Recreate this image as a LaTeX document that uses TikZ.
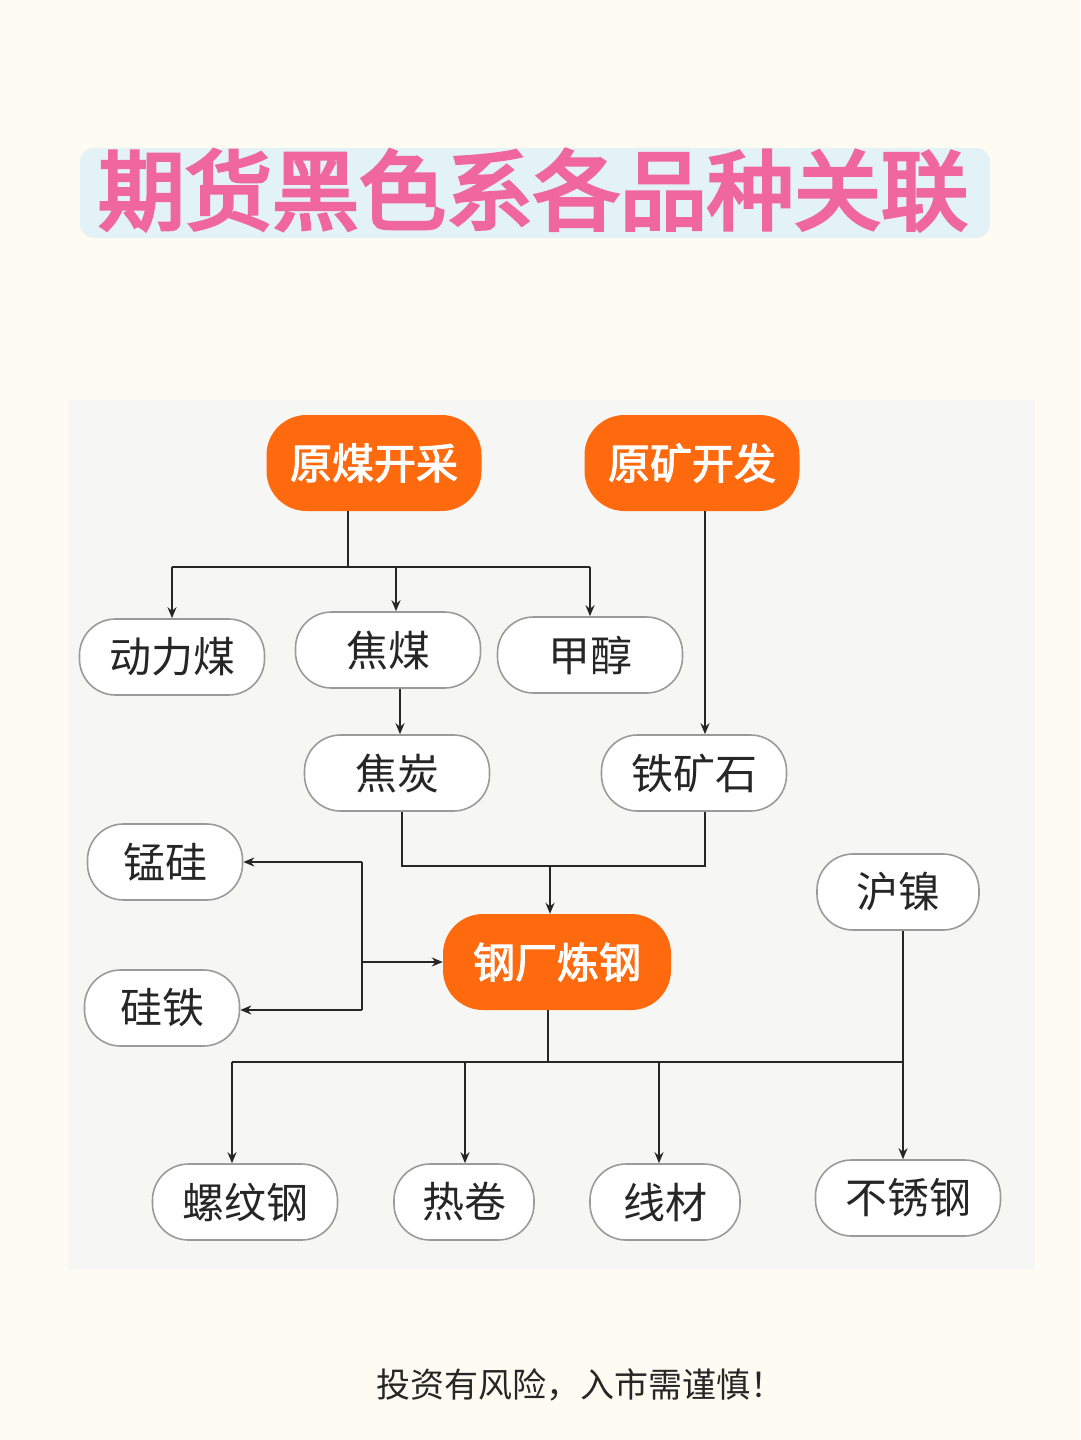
\documentclass[tikz,border=0pt]{standalone}
\usepackage{fontspec}
\setmainfont{Noto Sans CJK SC}
\newfontfamily\cjkb[FakeBold=2.5]{Noto Sans CJK SC}
\newfontfamily\cjkh[FakeBold=4]{Noto Sans CJK SC}
\usetikzlibrary{arrows.meta,calc}
\definecolor{bg}{HTML}{FEFCF2}
\definecolor{panel}{HTML}{F6F6F5}
\definecolor{ttl}{HTML}{E2F2F6}
\definecolor{pink}{HTML}{F0669F}
\definecolor{org}{HTML}{FF6A0F}
\definecolor{bd}{HTML}{9A9A9A}
\begin{document}
\begin{tikzpicture}[x=1pt,y=-1pt,
  box/.style={draw=bd,line width=1.6pt,fill=white,rounded corners=36pt,minimum height=76pt,font=\fontsize{42}{42}\selectfont,text=black!85},
  hub/.style={fill=org,rounded corners=40pt,minimum height=96pt,minimum width=215pt,font=\cjkb\fontsize{42}{42}\selectfont,text=white},
  ln/.style={line width=2.4pt,black!85},
  ar/.style={ln,-{Stealth[length=11pt,width=9pt]}}]
\fill[bg] (0,0) rectangle (1080,1440);
\useasboundingbox (0,0) rectangle (1080,1440);
\fill[panel] (68,400) rectangle (1035,1270);
\node[fill=ttl,rounded corners=14pt,minimum width=910pt,minimum height=90pt] (title) at (535,193) {};
\node[font=\cjkh\fontsize{87}{87}\selectfont,text=pink] (tt) at (533,190) {期货黑色系各品种关联};
\node[hub] (ym) at (374,463) {原煤开采};
\node[hub] (yk) at (692,463) {原矿开发};
\node[box,minimum width=185pt] (dl) at (172,657) {动力煤};
\node[box,minimum width=185pt] (jm) at (388,650) {焦煤};
\node[box,minimum width=185pt] (jc) at (590,655) {甲醇};
\node[box,minimum width=185pt] (jt) at (397,773) {焦炭};
\node[box,minimum width=185pt] (tk) at (694,773) {铁矿石};
\node[box,minimum width=155pt] (mg) at (165,862) {锰硅};
\node[box,minimum width=155pt] (gt) at (162,1008) {硅铁};
\node[hub,minimum width=228pt] (gc) at (557,962) {钢厂炼钢};
\node[box,minimum width=162pt] (hn) at (898,892) {沪镍};
\node[box,minimum width=185pt] (lw) at (245,1202) {螺纹钢};
\node[box,minimum width=140pt] (rj) at (464,1202) {热卷};
\node[box,minimum width=150pt] (xc) at (665,1202) {线材};
\node[box,minimum width=185pt] (bx) at (908,1198) {不锈钢};
\node[font=\fontsize{34}{34}\selectfont,text=black!85] (ft) at (580,1385) {投资有风险，入市需谨慎！};
\coordinate (c1) at (348,567);
\draw[ln] (ym.south -| c1) -- (c1);
\draw[ln] (172,567) -- (590,567);
\draw[ar] (172,567) -- (dl.north -| 172,0);
\draw[ar] (396,567) -- (jm.north -| 396,0);
\draw[ar] (590,567) -- (jc.north -| 590,0);
\draw[ar] (jm.south -| 400,0) -- (jt.north -| 400,0);
\draw[ar] (yk.south -| 705,0) -- (tk.north -| 705,0);
\coordinate (m1) at (402,866);
\coordinate (m2) at (705,866);
\draw[ln] (jt.south -| m1) -- (m1) -- (m2) -- (tk.south -| m2);
\draw[ar] (550,866) -- (gc.north -| 550,0);
\coordinate (l1) at (362,862);
\coordinate (l2) at (362,1010);
\draw[ln] (l1) -- (l2);
\draw[ar] (l1) -- (mg.east |- l1);
\draw[ar] (l2) -- (gt.east |- l2);
\draw[ar] (362,962) -- (gc.west);
\coordinate (b0) at (548,1062);
\draw[ln] (gc.south -| b0) -- (b0);
\draw[ln] (232,1062) -- (903,1062);
\draw[ar] (232,1062) -- (lw.north -| 232,0);
\draw[ar] (465,1062) -- (rj.north -| 465,0);
\draw[ar] (659,1062) -- (xc.north -| 659,0);
\draw[ar] (hn.south -| 903,0) -- (bx.north -| 903,0);
\end{tikzpicture}
\end{document}
